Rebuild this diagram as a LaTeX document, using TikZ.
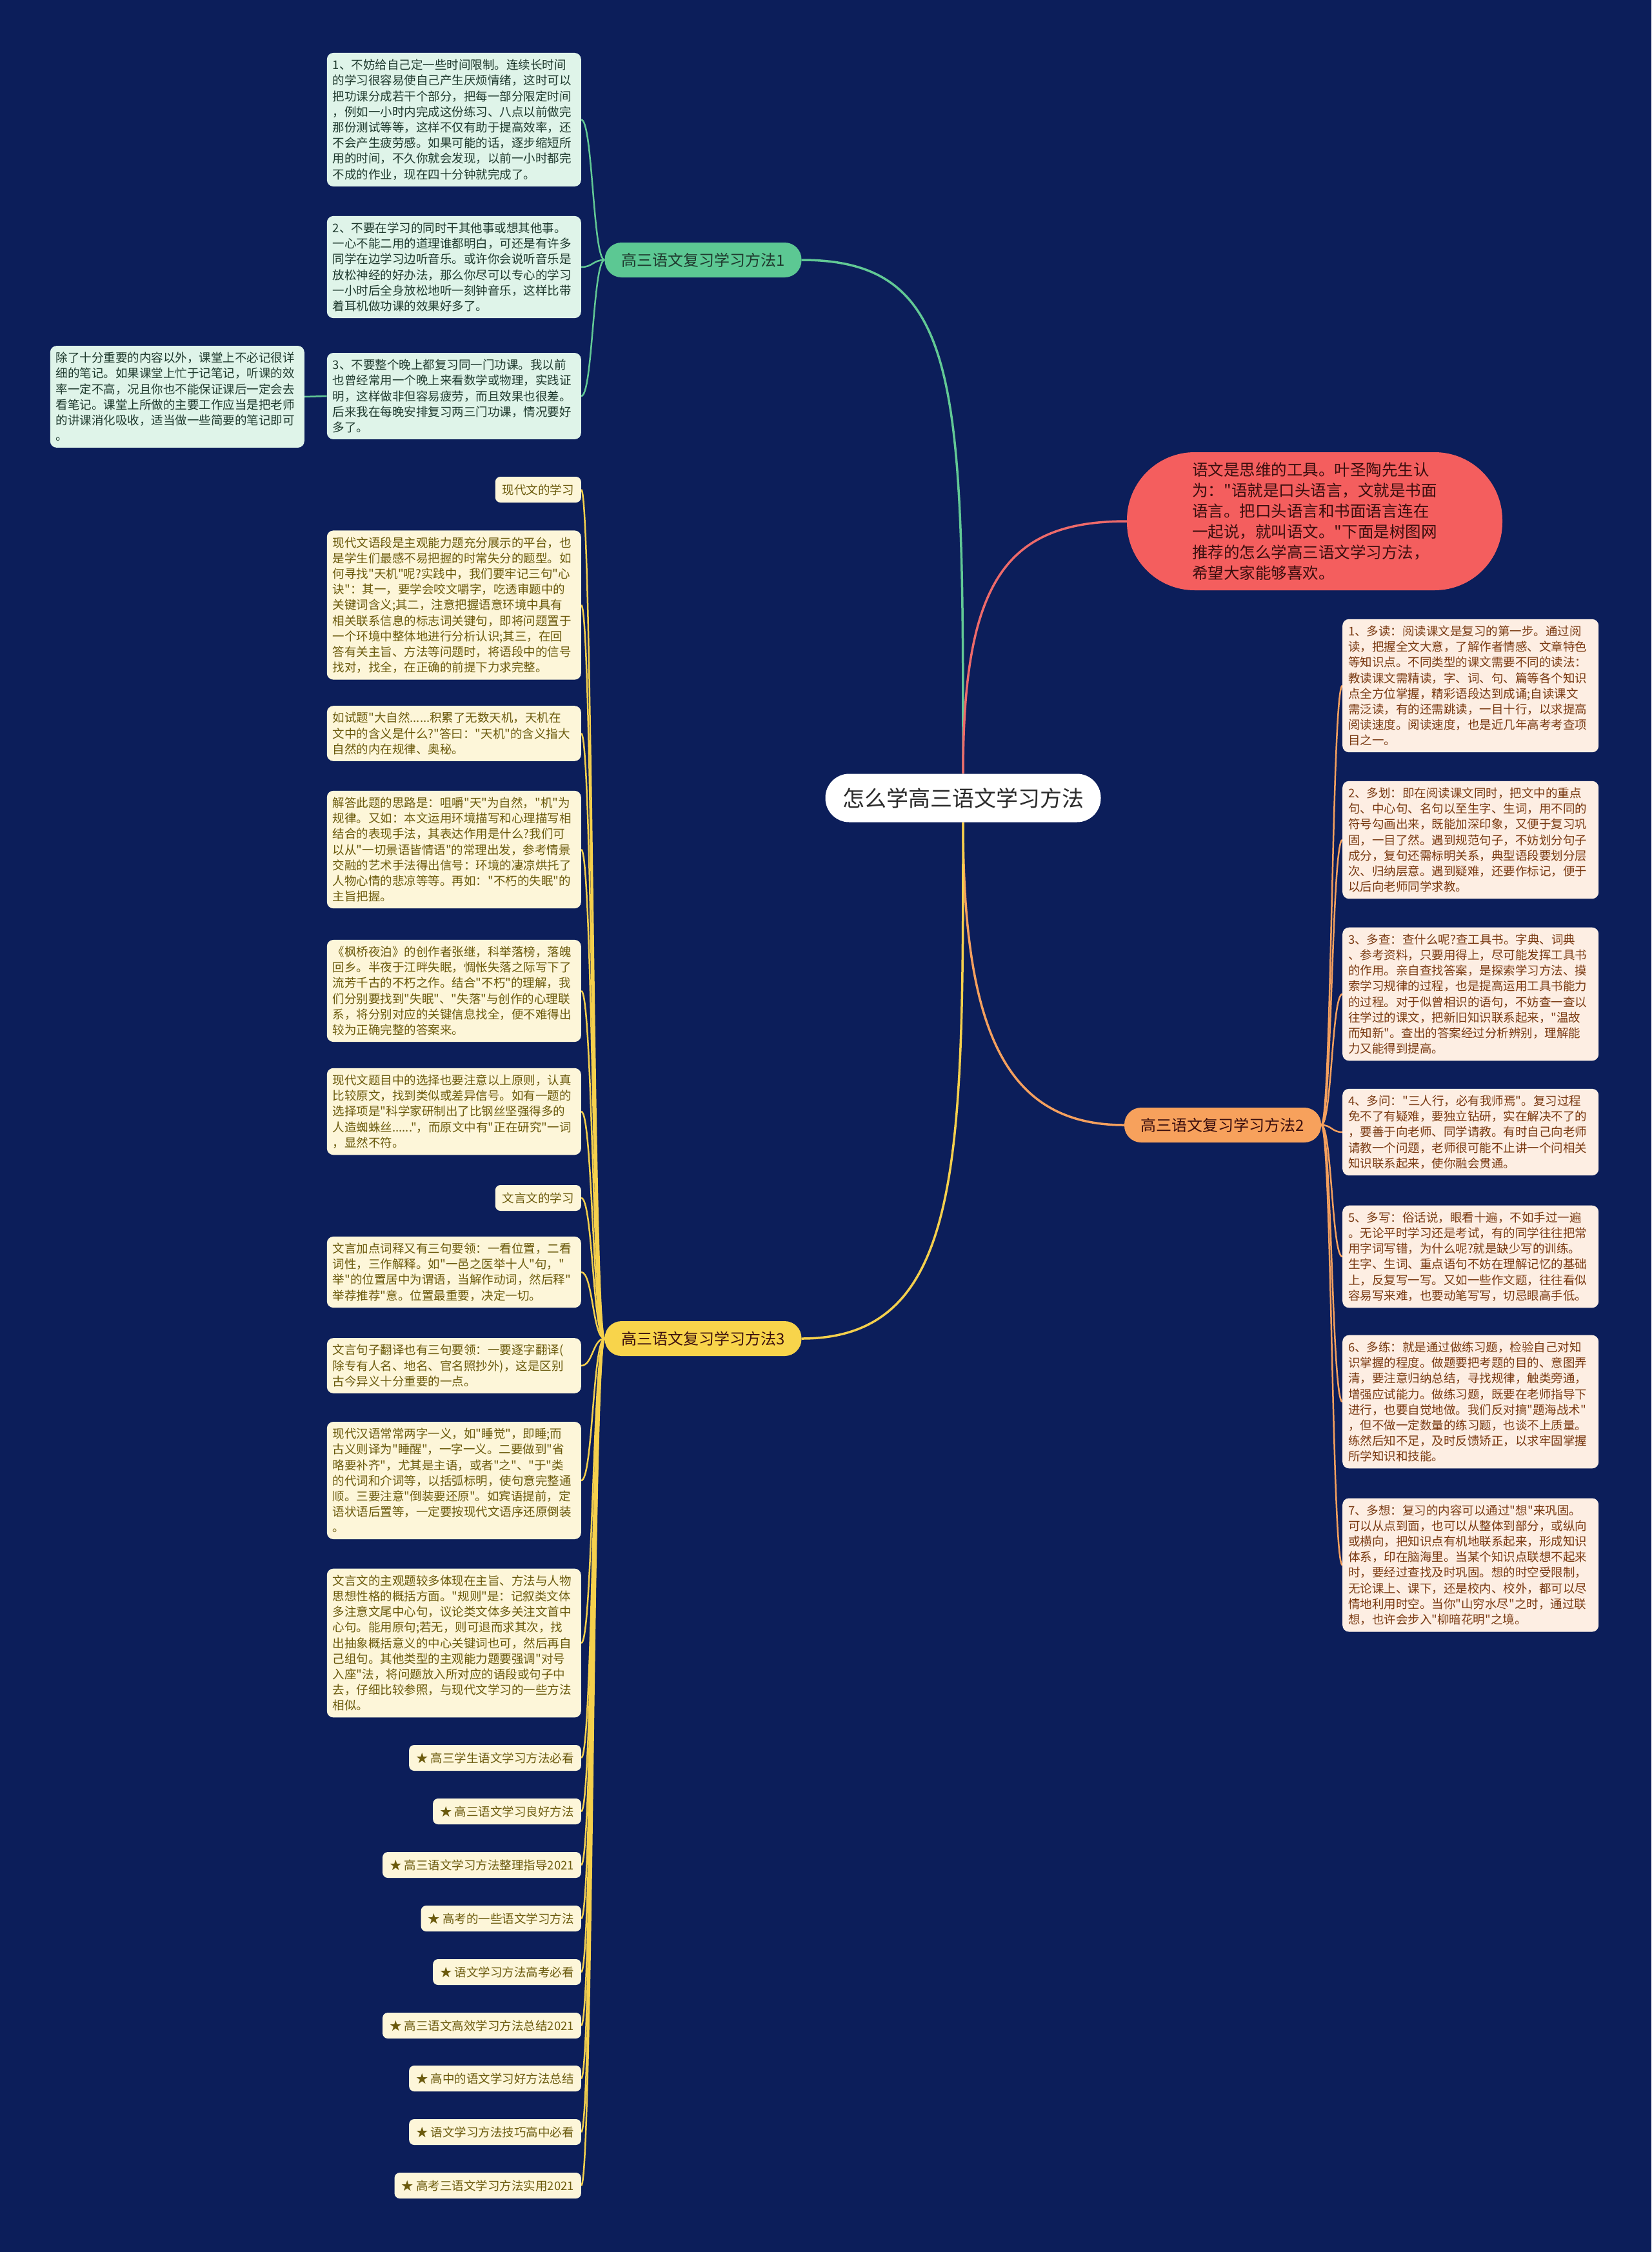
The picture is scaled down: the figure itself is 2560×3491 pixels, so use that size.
\documentclass[tikz,border=0pt]{standalone}
\usepackage{fontspec}
\newfontfamily\cjk{Noto Sans CJK SC}
\setmainfont{Noto Sans CJK SC}[Ligatures=ResetAll]
\pgfdeclarelayer{bglayer}
\pgfdeclarelayer{linelayer}
\pgfsetlayers{bglayer,linelayer,main}
\definecolor{cBg}{HTML}{0C1E5A}
\definecolor{cGreen}{HTML}{5CC893}
\definecolor{cGreenLine}{HTML}{62C995}
\definecolor{cGreenBox}{HTML}{DFF4E9}
\definecolor{cGreenTxt}{HTML}{1F3A2E}
\definecolor{cRed}{HTML}{F45E5E}
\definecolor{cRedLine}{HTML}{EE6A6A}
\definecolor{cRedTxt}{HTML}{3A0E0E}
\definecolor{cOrange}{HTML}{F7A15C}
\definecolor{cOrangeLine}{HTML}{F5A05E}
\definecolor{cOrangeBox}{HTML}{FDEEE3}
\definecolor{cOrangeTxt}{HTML}{7A3A12}
\definecolor{cYellow}{HTML}{F8D44B}
\definecolor{cYellowLine}{HTML}{F5D04C}
\definecolor{cYellowBox}{HTML}{FDF6D9}
\definecolor{cYellowTxt}{HTML}{6B5A0C}
\definecolor{cDark}{HTML}{2B2B2B}
\begin{document}
\begin{tikzpicture}[x=1pt,y=-1pt,
  every node/.style={inner sep=0pt},
  txtfont/.style={font=\cjk\fontsize{18.5}{24.2}\selectfont},
  gbox/.style={txtfont, fill=cGreenBox, text=cGreenTxt, rounded corners=10pt, text width=376pt, align=left, inner xsep=9pt, inner ysep=10pt},
  obox/.style={txtfont, fill=cOrangeBox, text=cOrangeTxt, rounded corners=10pt, text width=379pt, align=left, inner xsep=9pt, inner ysep=10pt},
  ybox/.style={txtfont, fill=cYellowBox, text=cYellowTxt, rounded corners=10pt, text width=376pt, align=left, inner xsep=9pt, inner ysep=10pt},
  ylabel/.style={txtfont, fill=cYellowBox, text=cYellowTxt, rounded corners=8pt, inner xsep=11pt, minimum height=40pt},
  branchnode/.style={font=\cjk\fontsize{24}{28}\selectfont, rounded corners=26pt, minimum width=305pt, minimum height=54pt},
  glink/.style={draw=cGreenLine, line width=2.5pt},
  olink/.style={draw=cOrangeLine, line width=2.5pt},
  ylink/.style={draw=cYellowLine, line width=2.5pt},
  mainlink/.style={line width=3.5pt}
]
\begin{pgfonlayer}{bglayer}
\fill[cBg] (0,0) rectangle (2560,3491);
\end{pgfonlayer}

% center
\node[fill=white, text=cDark, rounded corners=37pt, minimum width=427pt, minimum height=75pt, font=\cjk\fontsize{34}{40}\selectfont] (c) at (1493,1237) {怎么学高三语文学习方法};

% intro node
\node[fill=cRed, text=cRedTxt, rounded corners=105pt, minimum width=582pt, minimum height=214pt, align=left, font=\cjk\fontsize{24.5}{32}\selectfont] (r) at (2038,808) {语文是思维的工具。叶圣陶先生认\\为："语就是口头语言，文就是书面\\语言。把口头语言和书面语言连在\\一起说，就叫语文。"下面是树图网\\推荐的怎么学高三语文学习方法，\\希望大家能够喜欢。};

% branch nodes
\node[branchnode, fill=cGreen, text=cGreenTxt] (b1) at (1090,403) {高三语文复习学习方法1};
\node[branchnode, fill=cOrange, text=cRedTxt] (b2) at (1895.5,1744) {高三语文复习学习方法2};
\node[branchnode, fill=cYellow, text=cRedTxt] (b3) at (1090,2075) {高三语文复习学习方法3};

% green children
\node[gbox, anchor=east] (g1) at (901,185.5) {1、不妨给自己定一些时间限制。连续长时间\\的学习很容易使自己产生厌烦情绪，这时可以\\把功课分成若干个部分，把每一部分限定时间\\，例如一小时内完成这份练习、八点以前做完\\那份测试等等，这样不仅有助于提高效率，还\\不会产生疲劳感。如果可能的话，逐步缩短所\\用的时间，不久你就会发现，以前一小时都完\\不成的作业，现在四十分钟就完成了。};
\node[gbox, anchor=east] (g2) at (901,414) {2、不要在学习的同时干其他事或想其他事。\\一心不能二用的道理谁都明白，可还是有许多\\同学在边学习边听音乐。或许你会说听音乐是\\放松神经的好办法，那么你尽可以专心的学习\\一小时后全身放松地听一刻钟音乐，这样比带\\着耳机做功课的效果好多了。};
\node[gbox, anchor=east] (g3) at (901,614) {3、不要整个晚上都复习同一门功课。我以前\\也曾经常用一个晚上来看数学或物理，实践证\\明，这样做非但容易疲劳，而且效果也很差。\\后来我在每晚安排复习两三门功课，情况要好\\多了。};
\node[gbox, anchor=east] (g3a) at (472,615) {除了十分重要的内容以外，课堂上不必记很详\\细的笔记。如果课堂上忙于记笔记，听课的效\\率一定不高，况且你也不能保证课后一定会去\\看笔记。课堂上所做的主要工作应当是把老师\\的讲课消化吸收，适当做一些简要的笔记即可\\。};

% orange children
\node[obox, anchor=west] (o1) at (2081,1063) {1、多读：阅读课文是复习的第一步。通过阅\\读，把握全文大意，了解作者情感、文章特色\\等知识点。不同类型的课文需要不同的读法：\\教读课文需精读，字、词、句、篇等各个知识\\点全方位掌握，精彩语段达到成诵;自读课文\\需泛读，有的还需跳读，一目十行，以求提高\\阅读速度。阅读速度，也是近几年高考考查项\\目之一。};
\node[obox, anchor=west] (o2) at (2081,1302) {2、多划：即在阅读课文同时，把文中的重点\\句、中心句、名句以至生字、生词，用不同的\\符号勾画出来，既能加深印象，又便于复习巩\\固，一目了然。遇到规范句子，不妨划分句子\\成分，复句还需标明关系，典型语段要划分层\\次、归纳层意。遇到疑难，还要作标记，便于\\以后向老师同学求教。};
\node[obox, anchor=west] (o3) at (2081,1541) {3、多查：查什么呢?查工具书。字典、词典\\、参考资料，只要用得上，尽可能发挥工具书\\的作用。亲自查找答案，是探索学习方法、摸\\索学习规律的过程，也是提高运用工具书能力\\的过程。对于似曾相识的语句，不妨查一查以\\往学过的课文，把新旧知识联系起来，"温故\\而知新"。查出的答案经过分析辨别，理解能\\力又能得到提高。};
\node[obox, anchor=west] (o4) at (2081,1755) {4、多问："三人行，必有我师焉"。复习过程\\免不了有疑难，要独立钻研，实在解决不了的\\，要善于向老师、同学请教。有时自己向老师\\请教一个问题，老师很可能不止讲一个问相关\\知识联系起来，使你融会贯通。};
\node[obox, anchor=west] (o5) at (2081,1948) {5、多写：俗话说，眼看十遍，不如手过一遍\\。无论平时学习还是考试，有的同学往往把常\\用字词写错，为什么呢?就是缺少写的训练。\\生字、生词、重点语句不妨在理解记忆的基础\\上，反复写一写。又如一些作文题，往往看似\\容易写来难，也要动笔写写，切忌眼高手低。};
\node[obox, anchor=west] (o6) at (2081,2173) {6、多练：就是通过做练习题，检验自己对知\\识掌握的程度。做题要把考题的目的、意图弄\\清，要注意归纳总结，寻找规律，触类旁通，\\增强应试能力。做练习题，既要在老师指导下\\进行，也要自觉地做。我们反对搞"题海战术"\\，但不做一定数量的练习题，也谈不上质量。\\练然后知不足，及时反馈矫正，以求牢固掌握\\所学知识和技能。};
\node[obox, anchor=west] (o7) at (2081,2426) {7、多想：复习的内容可以通过"想"来巩固。\\可以从点到面，也可以从整体到部分，或纵向\\或横向，把知识点有机地联系起来，形成知识\\体系，印在脑海里。当某个知识点联想不起来\\时，要经过查找及时巩固。想的时空受限制，\\无论课上、课下，还是校内、校外，都可以尽\\情地利用时空。当你"山穷水尽"之时，通过联\\想，也许会步入"柳暗花明"之境。};

% yellow children
\node[ylabel, anchor=east] (y1) at (901,759) {现代文的学习};
\node[ybox, anchor=east] (y2) at (901,938) {现代文语段是主观能力题充分展示的平台，也\\是学生们最感不易把握的时常失分的题型。如\\何寻找"天机"呢?实践中，我们要牢记三句"心\\诀"：其一，要学会咬文嚼字，吃透审题中的\\关键词含义;其二，注意把握语意环境中具有\\相关联系信息的标志词关键句，即将问题置于\\一个环境中整体地进行分析认识;其三，在回\\答有关主旨、方法等问题时，将语段中的信号\\找对，找全，在正确的前提下力求完整。};
\node[ybox, anchor=east] (y3) at (901,1137) {如试题"大自然......积累了无数天机，天机在\\文中的含义是什么?"答曰："天机"的含义指大\\自然的内在规律、奥秘。};
\node[ybox, anchor=east] (y4) at (901,1317) {解答此题的思路是：咀嚼"天"为自然，"机"为\\规律。又如：本文运用环境描写和心理描写相\\结合的表现手法，其表达作用是什么?我们可\\以从"一切景语皆情语"的常理出发，参考情景\\交融的艺术手法得出信号：环境的凄凉烘托了\\人物心情的悲凉等等。再如："不朽的失眠"的\\主旨把握。};
\node[ybox, anchor=east] (y5) at (901,1536) {《枫桥夜泊》的创作者张继，科举落榜，落魄\\回乡。半夜于江畔失眠，惆怅失落之际写下了\\流芳千古的不朽之作。结合"不朽"的理解，我\\们分别要找到"失眠"、"失落"与创作的心理联\\系，将分别对应的关键信息找全，便不难得出\\较为正确完整的答案来。};
\node[ybox, anchor=east] (y6) at (901,1723) {现代文题目中的选择也要注意以上原则，认真\\比较原文，找到类似或差异信号。如有一题的\\选择项是"科学家研制出了比钢丝坚强得多的\\人造蜘蛛丝......"，而原文中有"正在研究"一词\\，显然不符。};
\node[ylabel, anchor=east] (y7) at (901,1857) {文言文的学习};
\node[ybox, anchor=east] (y8) at (901,1972) {文言加点词释又有三句要领：一看位置，二看\\词性，三作解释。如"一邑之医举十人"句，"\\举"的位置居中为谓语，当解作动词，然后释"\\举荐推荐"意。位置最重要，决定一切。};
\node[ybox, anchor=east] (y9) at (901,2117) {文言句子翻译也有三句要领：一要逐字翻译(\\除专有人名、地名、官名照抄外)，这是区别\\古今异义十分重要的一点。};
\node[ybox, anchor=east] (y10) at (901,2295) {现代汉语常常两字一义，如"睡觉"，即睡;而\\古义则译为"睡醒"，一字一义。二要做到"省\\略要补齐"，尤其是主语，或者"之"、"于"类\\的代词和介词等，以括弧标明，使句意完整通\\顺。三要注意"倒装要还原"。如宾语提前，定\\语状语后置等，一定要按现代文语序还原倒装\\。};
\node[ybox, anchor=east] (y11) at (901,2547) {文言文的主观题较多体现在主旨、方法与人物\\思想性格的概括方面。"规则"是：记叙类文体\\多注意文尾中心句，议论类文体多关注文首中\\心句。能用原句;若无，则可退而求其次，找\\出抽象概括意义的中心关键词也可，然后再自\\己组句。其他类型的主观能力题要强调"对号\\入座"法，将问题放入所对应的语段或句子中\\去，仔细比较参照，与现代文学习的一些方法\\相似。};
\node[ylabel, anchor=east] (L1) at (901,2725) {★ 高三学生语文学习方法必看};
\node[ylabel, anchor=east] (L2) at (901,2808) {★ 高三语文学习良好方法};
\node[ylabel, anchor=east] (L3) at (901,2891) {★ 高三语文学习方法整理指导2021};
\node[ylabel, anchor=east] (L4) at (901,2974) {★ 高考的一些语文学习方法};
\node[ylabel, anchor=east] (L5) at (901,3057) {★ 语文学习方法高考必看};
\node[ylabel, anchor=east] (L6) at (901,3140) {★ 高三语文高效学习方法总结2021};
\node[ylabel, anchor=east] (L7) at (901,3222) {★ 高中的语文学习好方法总结};
\node[ylabel, anchor=east] (L8) at (901,3305) {★ 语文学习方法技巧高中必看};
\node[ylabel, anchor=east] (L9) at (901,3388) {★ 高考三语文学习方法实用2021};

\begin{pgfonlayer}{linelayer}
% main connectors
\draw[mainlink, cGreenLine] (c.north) .. controls (1493,600) and (1493,403) .. (b1.east);
\draw[mainlink, cRedLine] (c.north) .. controls (1493,900) and (1560,808) .. (r.west);
\draw[mainlink, cOrangeLine] (c.south) .. controls (1493,1600) and (1560,1744) .. (b2.west);
\draw[mainlink, cYellowLine] (c.south) .. controls (1493,1800) and (1493,2075) .. (b3.east);
% green links
\foreach \n/\yy in {g1/185.5, g2/414, g3/614}
  \draw[glink] (b1.west) .. controls (919,403) and (919,\yy) .. (\n.east);
\draw[glink] (g3.west) -- (g3a.east);
% orange links
\foreach \n/\yy in {o1/1063, o2/1302, o3/1541, o4/1755, o5/1948, o6/2173, o7/2426}
  \draw[olink] (b2.east) .. controls (2064.5,1744) and (2064.5,\yy) .. (\n.west);
% yellow links
\foreach \n/\yy in {y1/759, y2/938, y3/1137, y4/1317, y5/1536, y6/1723, y7/1857, y8/1972, y9/2117, y10/2295, y11/2547, L1/2725, L2/2808, L3/2891, L4/2974, L5/3057, L6/3140, L7/3222, L8/3305, L9/3388}
  \draw[ylink] (b3.west) .. controls (919,2075) and (919,\yy) .. (\n.east);
\end{pgfonlayer}
\end{tikzpicture}
\end{document}
